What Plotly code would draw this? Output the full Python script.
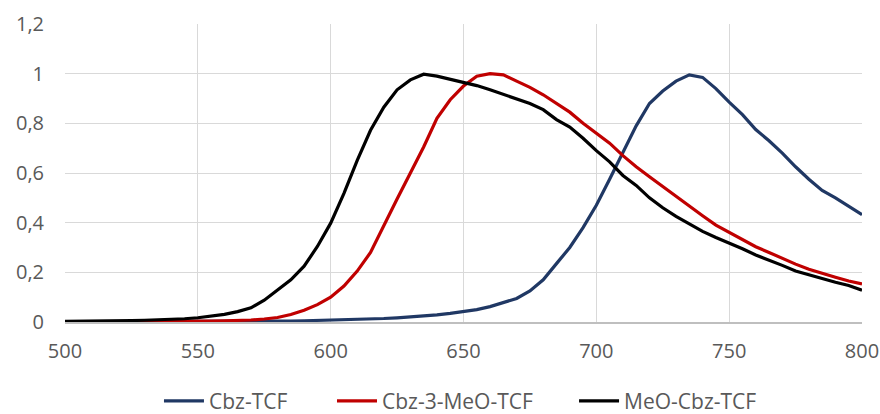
import plotly.graph_objects as go

wavelength = list(range(500, 801, 5))

cbz_tcf = [0.001, 0.001, 0.001, 0.001, 0.001, 0.001, 0.001, 0.001, 0.001, 0.001,
           0.002, 0.002, 0.002, 0.002, 0.003, 0.003, 0.004, 0.004, 0.005, 0.006,
           0.007, 0.008, 0.010, 0.012, 0.014, 0.017, 0.020, 0.024, 0.029, 0.035,
           0.042, 0.050, 0.062, 0.077, 0.095, 0.125, 0.170, 0.235, 0.300, 0.380,
           0.470, 0.575, 0.685, 0.790, 0.880, 0.930, 0.970, 0.995, 0.985, 0.940,
           0.885, 0.835, 0.775, 0.730, 0.680, 0.625, 0.575, 0.530, 0.500, 0.465,
           0.432]

cbz_3_meo_tcf = [0.001, 0.001, 0.001, 0.001, 0.001, 0.001, 0.001, 0.002, 0.002, 0.002,
                 0.003, 0.004, 0.005, 0.006, 0.008, 0.012, 0.018, 0.030, 0.047, 0.070,
                 0.100, 0.145, 0.205, 0.280, 0.384, 0.495, 0.600, 0.705, 0.820, 0.895,
                 0.950, 0.990, 1.000, 0.995, 0.970, 0.945, 0.915, 0.880, 0.845, 0.800,
                 0.760, 0.720, 0.670, 0.625, 0.585, 0.545, 0.505, 0.465, 0.428, 0.390,
                 0.360, 0.330, 0.303, 0.280, 0.255, 0.233, 0.212, 0.195, 0.180, 0.165,
                 0.153]

meo_cbz_tcf = [0.003, 0.003, 0.004, 0.004, 0.005, 0.006, 0.007, 0.008, 0.010, 0.013,
               0.017, 0.023, 0.031, 0.042, 0.057, 0.088, 0.127, 0.170, 0.225, 0.304,
               0.398, 0.518, 0.651, 0.772, 0.865, 0.935, 0.975, 0.998, 0.990, 0.978,
               0.963, 0.952, 0.935, 0.917, 0.900, 0.880, 0.855, 0.815, 0.785, 0.740,
               0.690, 0.645, 0.590, 0.550, 0.500, 0.460, 0.425, 0.395, 0.365, 0.340,
               0.318, 0.295, 0.270, 0.250, 0.228, 0.205, 0.190, 0.173, 0.160, 0.147,
               0.128]

series_names = ["Cbz-TCF", "Cbz-3-MeO-TCF", "MeO-Cbz-TCF"]
series_values = [cbz_tcf, cbz_3_meo_tcf, meo_cbz_tcf]
series_colors = ["#203864", "#C00000", "#000000"]
legend_ids = ["legend", "legend2", "legend3"]
legend_x = [0.1179, 0.3350, 0.6387]

fig = go.Figure()
for name, vals, color, lg in zip(series_names, series_values, series_colors, legend_ids):
    fig.add_trace(go.Scatter(x=wavelength, y=vals, name=name, mode="lines",
                             line=dict(color=color, width=3.2), legend=lg))

font_family = "Open Sans, Liberation Sans, sans-serif"
legend_common = dict(orientation="h", xanchor="left", yref="paper",
                     y=-0.266, yanchor="middle", bgcolor="rgba(0,0,0,0)",
                     font=dict(size=21, color="#595959"), itemwidth=40)

layout_kwargs = dict(
    width=880, height=414,
    margin=dict(l=65, r=18, t=24, b=91.5, autoexpand=False),
    paper_bgcolor="white", plot_bgcolor="white",
    separators=", ",
    font=dict(family=font_family, size=20, color="#595959"),
    showlegend=True,
    xaxis=dict(range=[500, 800], dtick=50, tick0=500, showgrid=True,
               gridcolor="#d9d9d9", gridwidth=1.3, zeroline=False,
               showline=True, linecolor="#bfbfbf", linewidth=1.5,
               ticks="", ticklabelstandoff=10, automargin=False),
    yaxis=dict(range=[0, 1.2], dtick=0.2, tick0=0, showgrid=True,
               gridcolor="#d9d9d9", gridwidth=1.3, zeroline=False,
               showline=False, ticks="", ticklabelstandoff=20, automargin=False),
)
for lg, lx in zip(legend_ids, legend_x):
    layout_kwargs[lg] = dict(legend_common, x=lx)

fig.update_layout(**layout_kwargs)

fig.write_html(
    "out.html",
    config={"displayModeBar": False},
    post_script="document.body.style.margin='0';document.body.style.overflow='hidden';",
)
